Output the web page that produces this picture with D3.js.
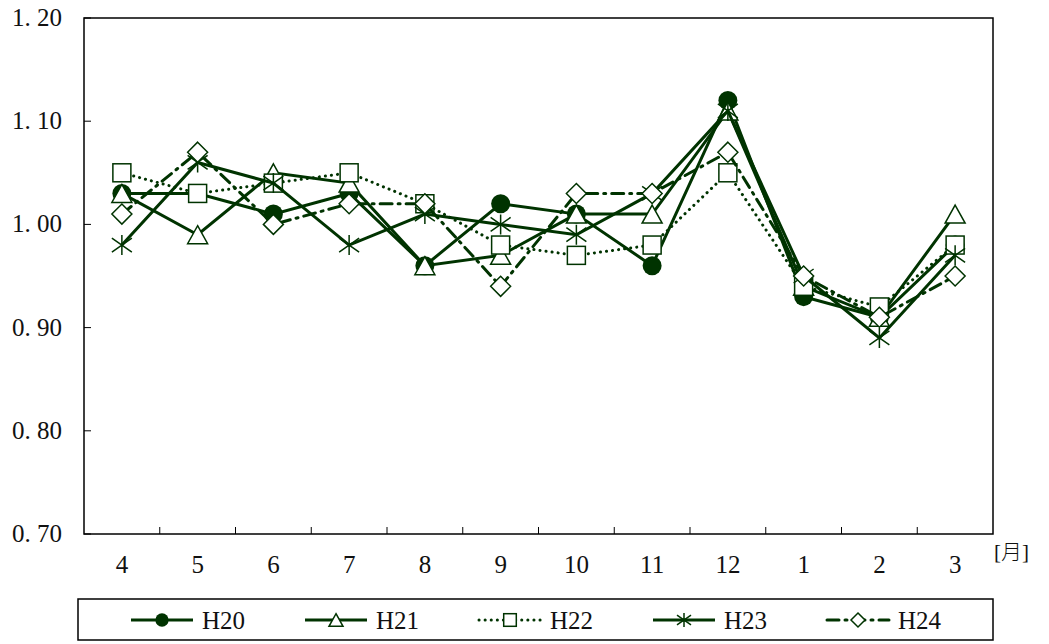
<!DOCTYPE html>
<html>
<head>
<meta charset="utf-8">
<script src="https://cdn.jsdelivr.net/npm/d3@7"></script>
<style>
body { margin: 0; background: #fff; }
svg { display: block; }
</style>
</head>
<body>
<svg id="chart" width="1049" height="644"></svg>
<script>
var months = ["4", "5", "6", "7", "8", "9", "10", "11", "12", "1", "2", "3"];
var yTicks = [0.70, 0.80, 0.90, 1.00, 1.10, 1.20];
var seriesNames = ["H20", "H21", "H22", "H23", "H24"];

var h20 = [1.03, 1.03, 1.01, 1.03, 0.96, 1.02, 1.01, 0.96, 1.12, 0.93, 0.91, 0.98];
var h21 = [1.03, 0.99, 1.05, 1.04, 0.96, 0.97, 1.01, 1.01, 1.11, 0.94, 0.91, 1.01];
var h22 = [1.05, 1.03, 1.04, 1.05, 1.02, 0.98, 0.97, 0.98, 1.05, 0.94, 0.92, 0.98];
var h23 = [0.98, 1.06, 1.04, 0.98, 1.01, 1.00, 0.99, 1.03, 1.11, 0.95, 0.89, 0.97];
var h24 = [1.01, 1.07, 1.00, 1.02, 1.02, 0.94, 1.03, 1.03, 1.07, 0.95, 0.91, 0.95];

var green = "#003300";
var plotLeft = 84, plotRight = 993, plotTop = 18, plotBottom = 534;

var series = [
    {name: seriesNames[0], values: h20, dash: null, marker: "circle"},
    {name: seriesNames[1], values: h21, dash: null, marker: "triangle"},
    {name: seriesNames[2], values: h22, dash: "0.1,6", marker: "square"},
    {name: seriesNames[3], values: h23, dash: null, marker: "star"},
    {name: seriesNames[4], values: h24, dash: "12,6,2,6", marker: "diamond"}
];

var svg = d3.select("#chart");

var x = d3.scaleBand()
    .domain(months)
    .range([plotLeft, plotRight])
    .paddingInner(0)
    .paddingOuter(0);

var y = d3.scaleLinear()
    .domain([0.7, 1.2])
    .range([plotBottom, plotTop]);

// frame
svg.append("rect")
    .attr("x", plotLeft)
    .attr("y", plotTop)
    .attr("width", plotRight - plotLeft)
    .attr("height", plotBottom - plotTop)
    .attr("fill", "none")
    .attr("stroke", "#000")
    .attr("stroke-width", 1.5);

// y ticks (inward) and labels
svg.selectAll(".ytick")
    .data(yTicks)
    .enter().append("line")
    .attr("x1", plotLeft)
    .attr("x2", plotLeft + 7)
    .attr("y1", function(d) { return y(d); })
    .attr("y2", function(d) { return y(d); })
    .attr("stroke", "#000")
    .attr("stroke-width", 1);

svg.selectAll(".ylab")
    .data(yTicks)
    .enter().append("text")
    .attr("x", 62)
    .attr("y", function(d) { return y(d) + 8; })
    .attr("text-anchor", "end")
    .attr("font-family", "Liberation Serif, serif")
    .attr("font-size", 25)
    .attr("fill", "#111")
    .text(function(d) { return d.toFixed(2).replace(".", ". "); });

// x ticks at band edges (inward)
svg.selectAll(".xtick")
    .data(months.slice(1))
    .enter().append("line")
    .attr("x1", function(d) { return x(d); })
    .attr("x2", function(d) { return x(d); })
    .attr("y1", plotBottom)
    .attr("y2", plotBottom - 7)
    .attr("stroke", "#000")
    .attr("stroke-width", 1);

svg.selectAll(".xlab")
    .data(months)
    .enter().append("text")
    .attr("x", function(d) { return x(d) + x.bandwidth() / 2; })
    .attr("y", 573)
    .attr("text-anchor", "middle")
    .attr("font-family", "Liberation Serif, serif")
    .attr("font-size", 25)
    .attr("fill", "#111")
    .text(function(d) { return d; });

svg.append("text")
    .attr("x", 994)
    .attr("y", 559)
    .attr("font-family", "Liberation Serif, Noto Sans CJK JP, serif")
    .attr("font-size", 21)
    .attr("font-weight", 300)
    .attr("fill", "#111")
    .text("[月]");

function drawMarker(g, type, cx, cy, s) {
    if (type === "circle") {
        g.append("circle").attr("cx", cx).attr("cy", cy).attr("r", 9.5 * s)
            .attr("fill", green);
    } else if (type === "triangle") {
        var h = 18 * s, w = 10 * s;
        g.append("path")
            .attr("d", "M" + cx + "," + (cy - h / 2) + "L" + (cx + w) + "," + (cy + h / 2) + "L" + (cx - w) + "," + (cy + h / 2) + "Z")
            .attr("fill", "#fff").attr("stroke", green).attr("stroke-width", 1.5);
    } else if (type === "square") {
        var a = 9 * s;
        g.append("rect").attr("x", cx - a).attr("y", cy - a).attr("width", 2 * a).attr("height", 2 * a)
            .attr("fill", "#fff").attr("stroke", green).attr("stroke-width", 1.5);
    } else if (type === "diamond") {
        var r = 10 * s;
        g.append("path")
            .attr("d", "M" + cx + "," + (cy - r) + "L" + (cx + r) + "," + cy + "L" + cx + "," + (cy + r) + "L" + (cx - r) + "," + cy + "Z")
            .attr("fill", "#fff").attr("stroke", green).attr("stroke-width", 1.5);
    } else if (type === "star") {
        var k = 10 * s, j = 7 * s;
        g.append("path")
            .attr("d", "M" + cx + "," + (cy - k) + "L" + cx + "," + (cy + k) +
                "M" + (cx - k) + "," + (cy - j) + "L" + (cx + k) + "," + (cy + j) +
                "M" + (cx - k) + "," + (cy + j) + "L" + (cx + k) + "," + (cy - j))
            .attr("fill", "none").attr("stroke", green).attr("stroke-width", 1.5);
    }
}

var line = d3.line()
    .x(function(d, i) { return x(months[i]) + x.bandwidth() / 2; })
    .y(function(d) { return y(d); });

series.forEach(function(s) {
    var g = svg.append("g");
    g.append("path")
        .datum(s.values)
        .attr("d", line)
        .attr("fill", "none")
        .attr("stroke", green)
        .attr("stroke-width", 3)
        .attr("stroke-linecap", s.dash ? "round" : "butt")
        .attr("stroke-dasharray", s.dash);
    s.values.forEach(function(v, i) {
        drawMarker(g, s.marker, x(months[i]) + x.bandwidth() / 2, y(v), 1);
    });
});

// legend
svg.append("rect")
    .attr("x", 78)
    .attr("y", 599)
    .attr("width", 915)
    .attr("height", 41)
    .attr("fill", "#fff")
    .attr("stroke", "#000")
    .attr("stroke-width", 1.5);

var legend = svg.selectAll(".leg")
    .data(series)
    .enter().append("g")
    .attr("transform", function(d, i) { return "translate(" + (131 + i * 174) + ",620)"; });

legend.each(function(s) {
    var g = d3.select(this);
    g.append("line")
        .attr("x1", 0).attr("x2", 62).attr("y1", 0).attr("y2", 0)
        .attr("stroke", green)
        .attr("stroke-width", 3)
        .attr("stroke-linecap", s.dash ? "round" : "butt")
        .attr("stroke-dasharray", s.dash);
    drawMarker(g, s.marker, 31, 0, 0.7);
    g.append("text")
        .attr("x", 71)
        .attr("y", 9)
        .attr("font-family", "Liberation Serif, serif")
        .attr("font-size", 25)
        .attr("fill", "#111")
        .text(s.name);
});
</script>
</body>
</html>
